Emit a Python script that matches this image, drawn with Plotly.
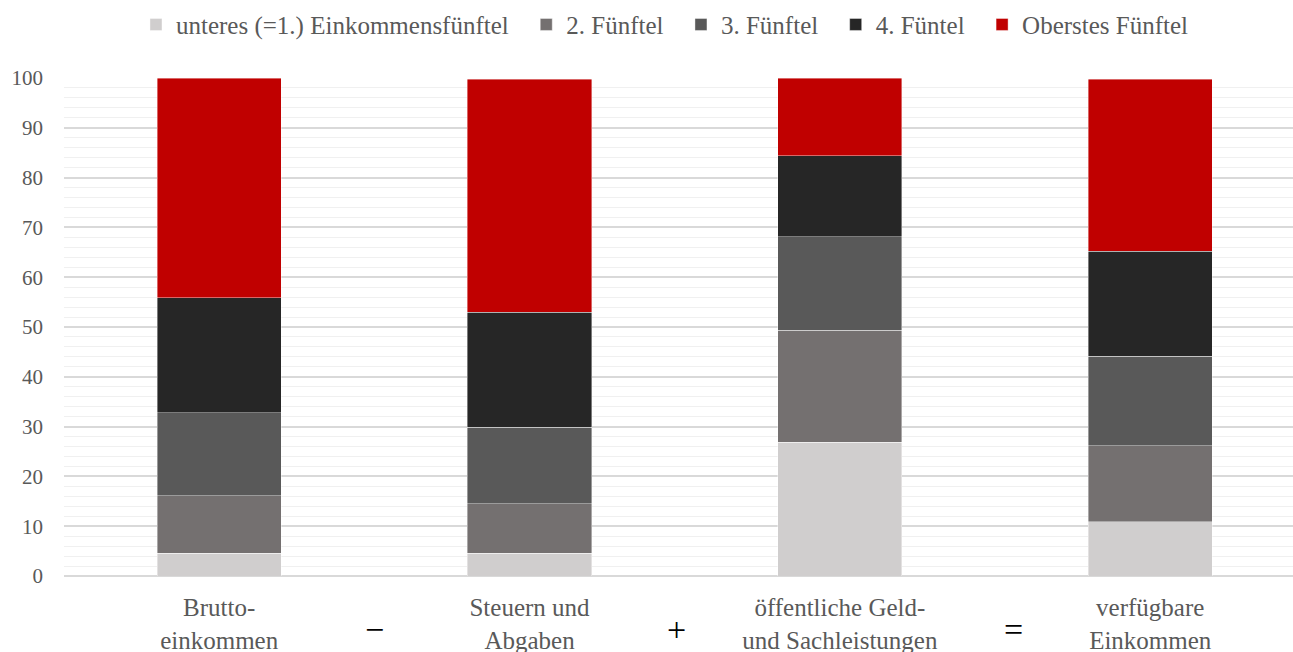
import plotly.graph_objects as go

categories = ["Brutto-<br>einkommen", "Steuern und<br>Abgaben", "öffentliche Geld-<br>und Sachleistungen", "verfügbare<br>Einkommen"]
series_names = ["unteres (=1.) Einkommensfünftel", "2. Fünftel", "3. Fünftel", "4. Füntel", "Oberstes Fünftel"]
q1 = [4.6, 4.6, 26.9, 10.9]
q2 = [11.5, 9.9, 22.4, 15.3]
q3 = [16.7, 15.4, 18.8, 17.9]
q4 = [23.1, 23.1, 16.3, 21.1]
q5 = [44.1, 46.7, 15.6, 34.5]
operators = ["−", "+", "="]
y_ticks = [0, 10, 20, 30, 40, 50, 60, 70, 80, 90, 100]

colors = ["#d0cece", "#747070", "#595959", "#262626", "#c00000"]
values = [q1, q2, q3, q4, q5]

FONT = "Liberation Serif"
x_idx = list(range(len(categories)))
PAD = "\u00a0\u00a0"

fig = go.Figure()
for i, (name, vals, col) in enumerate(zip(series_names, values, colors)):
    label = name + (PAD if i < len(series_names) - 1 else "")
    fig.add_trace(go.Bar(
        x=x_idx, y=vals, name=label,
        marker=dict(color=col, line=dict(color="rgba(255,255,255,0.5)", width=0.8)),
    ))

op_x = [0.5, 1.475, 2.56]
for ox, op in zip(op_x, operators):
    fig.add_annotation(x=ox, xref="x", y=-0.148, yref="paper", text=op,
                       showarrow=False, font=dict(family=FONT, size=34, color="#000000"),
                       xanchor="center", yanchor="bottom")

fig.update_layout(
    barmode="stack",
    bargap=0.6,
    width=1293, height=652,
    margin=dict(l=64, r=0, t=78, b=76, autoexpand=False),
    paper_bgcolor="white", plot_bgcolor="white",
    font=dict(family=FONT, size=25, color="#595959"),
    legend=dict(orientation="h", x=0.489, xanchor="center", y=1.107, yanchor="middle",
                font=dict(family=FONT, size=25, color="#595959"),
                traceorder="normal", itemwidth=30),
    xaxis=dict(
        tickmode="array", tickvals=x_idx, ticktext=categories,
        range=[-0.5, 3.46], showgrid=False, zeroline=False, showline=False,
        ticks="", ticklabelstandoff=14, automargin=False,
        tickfont=dict(family=FONT, size=25, color="#595959"),
    ),
    yaxis=dict(
        range=[0, 100], tickmode="array", tickvals=y_ticks,
        showgrid=True, gridcolor="#d9d9d9", gridwidth=1.5,
        minor=dict(dtick=2, showgrid=True, gridcolor="#f0f0f0", gridwidth=1),
        zeroline=True, zerolinecolor="#d9d9d9", zerolinewidth=1.5,
        showline=False, ticks="", ticklabelstandoff=20, automargin=False,
        tickfont=dict(family=FONT, size=21, color="#595959"),
    ),
)

fig.write_html("out.html")
